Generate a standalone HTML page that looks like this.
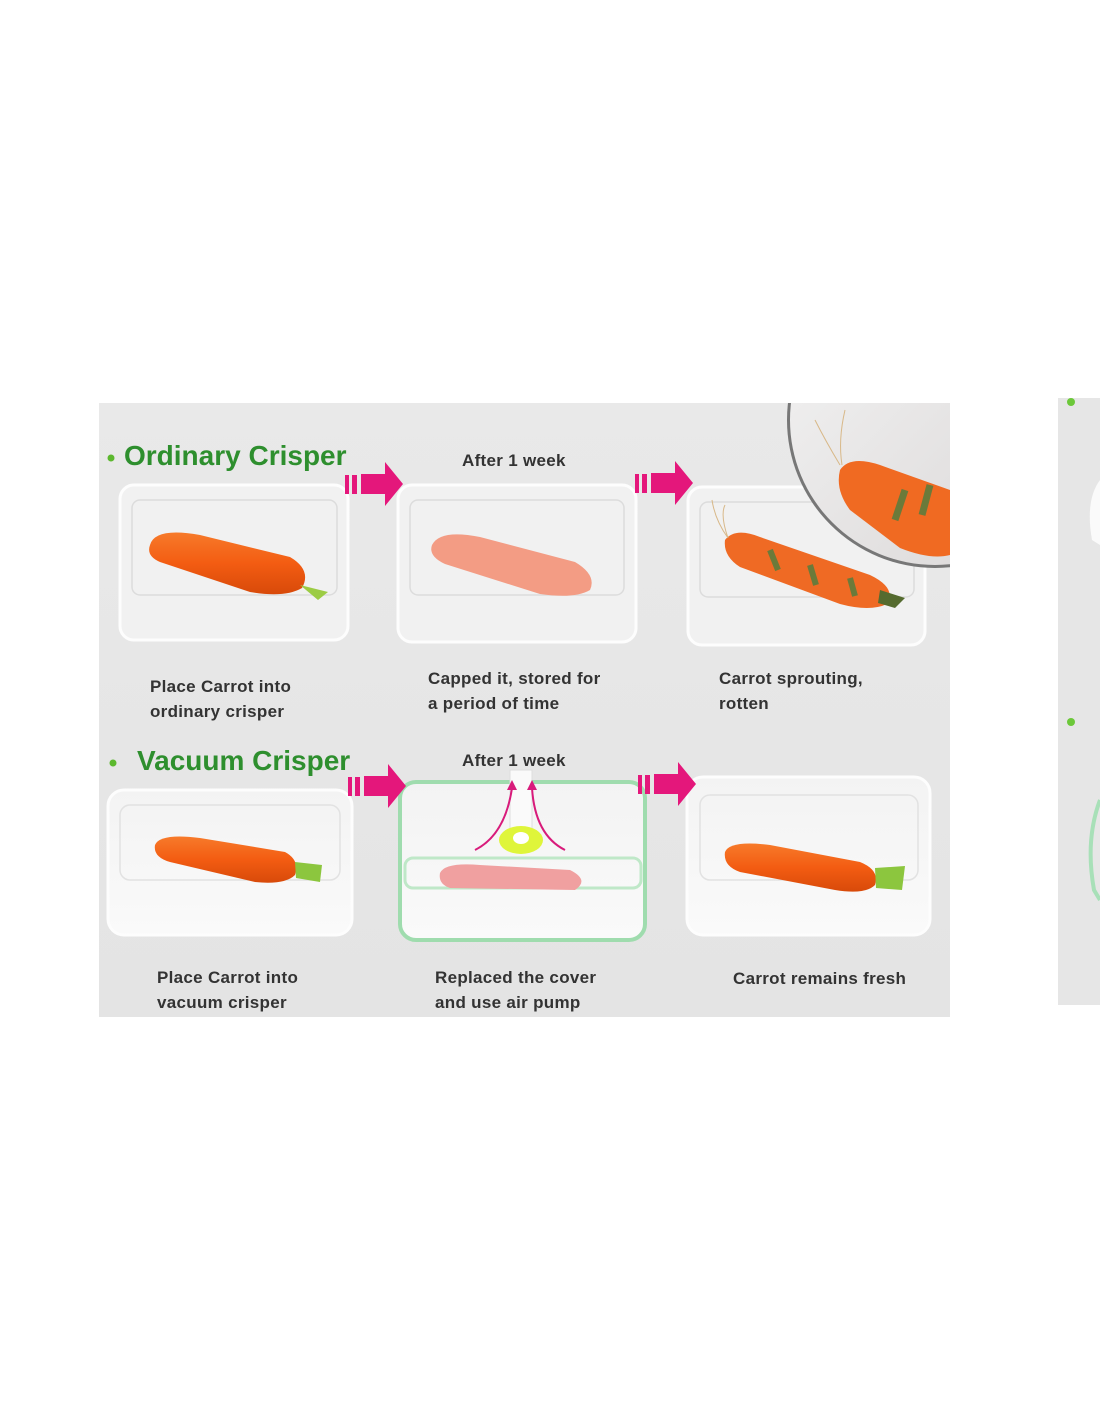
<!DOCTYPE html>
<html><head><meta charset="utf-8"><style>
html,body{margin:0;padding:0;background:#fff;width:1100px;height:1422px;overflow:hidden}
svg{display:block}
text{font-family:"Liberation Sans",sans-serif}
</style></head><body>
<svg width="1100" height="1422" viewBox="0 0 1100 1422" xmlns="http://www.w3.org/2000/svg">
<defs>
<clipPath id="panel"><rect x="99" y="403" width="851" height="614"/></clipPath>
<linearGradient id="bg" x1="0" y1="0" x2="0" y2="1"><stop offset="0" stop-color="#e9e9e9"/><stop offset="1" stop-color="#e4e4e4"/></linearGradient>
<linearGradient id="car" x1="0" y1="0" x2="0" y2="1"><stop offset="0" stop-color="#f77a2a"/><stop offset="0.5" stop-color="#f35c12"/><stop offset="1" stop-color="#d84a0a"/></linearGradient>
<linearGradient id="mag" x1="0" y1="0" x2="1" y2="1"><stop offset="0" stop-color="#f4f4f4"/><stop offset="1" stop-color="#d9d6d6"/></linearGradient>
<linearGradient id="boxb" x1="0" y1="0" x2="0" y2="1"><stop offset="0" stop-color="#f3f3f3"/><stop offset="1" stop-color="#fafafa"/></linearGradient>
<g id="arrow" fill="#e4177b">
<rect x="0" y="13" width="4" height="19"/><rect x="7" y="13" width="5" height="19"/>
<path d="M16 12 H40 V0 L58 22 L40 44 V32 H16 Z"/>
</g>
</defs>
<rect x="99" y="403" width="851" height="614" fill="url(#bg)"/>
<rect x="1058" y="398" width="42" height="607" fill="#e6e6e6"/>
<circle cx="1071" cy="402" r="4" fill="#6cc83a"/>
<circle cx="1071" cy="722" r="4" fill="#6cc83a"/>
<path d="M1100 480 Q1085 500 1092 540 L1100 545Z" fill="#fafafa"/>
<path d="M1100 800 Q1085 840 1094 890 L1100 900" fill="none" stroke="#a8e0b8" stroke-width="4"/>

<g clip-path="url(#panel)">
<rect x="120" y="485" width="228" height="155" rx="14" fill="#f1f1f1" stroke="#fdfdfd" stroke-width="3"/>
<rect x="132" y="500" width="205" height="95" rx="8" fill="none" stroke="#dcdcdc" stroke-width="1.5"/>
<rect x="398" y="485" width="238" height="157" rx="14" fill="#f1f1f1" stroke="#fdfdfd" stroke-width="3"/>
<rect x="410" y="500" width="214" height="95" rx="8" fill="none" stroke="#dcdcdc" stroke-width="1.5"/>
<rect x="688" y="487" width="237" height="158" rx="14" fill="#f1f1f1" stroke="#fdfdfd" stroke-width="3"/>
<rect x="700" y="502" width="214" height="95" rx="8" fill="none" stroke="#dcdcdc" stroke-width="1.5"/>
<path d="M150 545 Q155 527 200 535 L290 557 Q312 570 302 588 Q285 598 250 592 L160 562 Q146 556 150 545Z" fill="url(#car)"/>
<path d="M300 585 L328 592 L318 600 Z" fill="#9ccc44"/>
<path d="M432 545 Q440 529 480 537 L575 562 Q597 575 590 590 Q575 599 540 594 L445 564 Q428 556 432 545Z" fill="#f39c84"/>
<path d="M725 540 Q735 527 760 537 L870 575 Q897 588 887 604 Q870 612 840 604 L740 567 Q723 556 725 540Z" fill="#ef6a24"/>
<path d="M770 550 l8 20 M810 565 l6 20 M850 578 l5 18" stroke="#6b7a3a" stroke-width="6"/>
<path d="M880 590 L905 598 L895 608 L878 603Z" fill="#556b2f"/>
<path d="M728 538 Q715 520 712 500 M728 538 Q720 515 725 505" stroke="#d8b888" fill="none"/>
<circle cx="935" cy="420" r="148" fill="#777"/>
<circle cx="935" cy="420" r="145" fill="url(#mag)"/>
<path d="M840 470 Q850 455 880 465 L950 490 L950 555 Q930 560 900 548 L850 510 Q835 490 840 470Z" fill="#f06a22"/>
<path d="M905 490 l-10 30 M930 485 l-8 30" stroke="#6b7a3a" stroke-width="7"/>
<path d="M840 465 Q825 440 815 420 M842 465 Q838 440 845 410" stroke="#d8b888" fill="none"/>
<rect x="108" y="790" width="244" height="145" rx="16" fill="url(#boxb)" stroke="#fdfdfd" stroke-width="3"/>
<rect x="120" y="805" width="220" height="75" rx="10" fill="none" stroke="#e2e2e2" stroke-width="1.5"/>
<rect x="400" y="782" width="245" height="158" rx="16" fill="url(#boxb)" stroke="#9fdcae" stroke-width="4"/>
<rect x="405" y="858" width="236" height="30" rx="8" fill="none" stroke="#bfe8c8" stroke-width="3"/>
<rect x="687" y="777" width="243" height="158" rx="16" fill="url(#boxb)" stroke="#fdfdfd" stroke-width="3"/>
<rect x="700" y="795" width="218" height="85" rx="10" fill="none" stroke="#e2e2e2" stroke-width="1.5"/>
<path d="M155 845 Q160 833 200 838 L285 852 Q300 860 295 875 Q285 885 255 882 L170 862 Q153 857 155 845Z" fill="url(#car)"/>
<path d="M295 862 L322 865 L320 882 L296 878Z" fill="#8cc63e"/>
<path d="M440 873 Q445 862 480 865 L570 870 Q590 880 575 890 L450 888 Q438 884 440 873Z" fill="#f0a0a0"/>
<path d="M725 852 Q730 840 770 845 L860 862 Q880 870 875 885 Q865 895 835 890 L740 872 Q723 866 725 852Z" fill="url(#car)"/>
<path d="M875 868 L905 866 L902 890 L876 888Z" fill="#8cc63e"/>
<rect x="510" y="770" width="22" height="80" fill="#fafafa" stroke="#ddd"/>
<ellipse cx="521" cy="840" rx="22" ry="14" fill="#dff53a"/>
<ellipse cx="521" cy="838" rx="8" ry="6" fill="#fff"/>
<path d="M475 850 Q505 835 512 788" stroke="#d81b7b" stroke-width="2" fill="none"/>
<path d="M565 850 Q535 835 532 788" stroke="#d81b7b" stroke-width="2" fill="none"/>
<path d="M507 790 L512 780 L517 790Z M527 790 L532 780 L537 790Z" fill="#d81b7b"/>
</g>

<use href="#arrow" x="345" y="462"/>
<use href="#arrow" x="635" y="461"/>
<use href="#arrow" x="348" y="764"/>
<use href="#arrow" x="638" y="762"/>

<circle cx="111" cy="458" r="3.5" fill="#5cb82e"/>
<text x="124" y="465" font-size="28" font-weight="bold" fill="#2e8f2e">Ordinary Crisper</text>
<circle cx="113" cy="763" r="3.5" fill="#5cb82e"/>
<text x="137" y="770" font-size="28" font-weight="bold" fill="#2e8f2e">Vacuum Crisper</text>
<g font-size="17" font-weight="bold" fill="#333" letter-spacing="0.3">
<text x="462" y="466">After 1 week</text>
<text x="462" y="766">After 1 week</text>
<text x="150" y="692">Place Carrot  into</text>
<text x="150" y="717">ordinary crisper</text>
<text x="428" y="684">Capped it, stored for</text>
<text x="428" y="709">a period of time</text>
<text x="719" y="684">Carrot sprouting,</text>
<text x="719" y="709">rotten</text>
<text x="157" y="983">Place Carrot  into</text>
<text x="157" y="1008">vacuum crisper</text>
<text x="435" y="983">Replaced the cover</text>
<text x="435" y="1008">and use air pump</text>
<text x="733" y="984">Carrot remains fresh</text>
</g>
</svg>
</body></html>
